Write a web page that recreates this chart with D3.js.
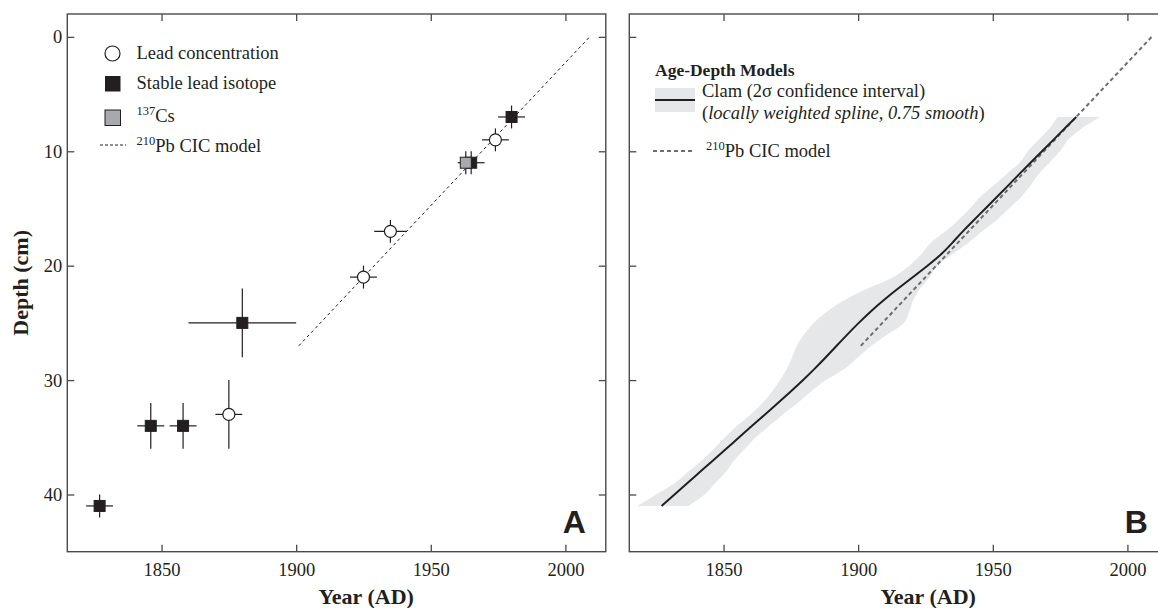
<!DOCTYPE html>
<html>
<head>
<meta charset="utf-8">
<script src="https://cdn.jsdelivr.net/npm/d3@7"></script>
<style>
    body { margin: 0; background: #fff; }
    svg text { font-family: "Liberation Serif", "Times New Roman", serif; fill: #231f20; }
</style>
</head>
<body>
<div class="chart"></div>
<script>
// axes
const yearDomain = [1815, 2015];
const depthDomain = [-2, 45];
const yearTicks = [1850, 1900, 1950, 2000];
const depthTicks = [0, 10, 20, 30, 40];

// panel A - lead concentration
const concYears = [1974, 1935, 1925, 1875];
const concDepths = [9, 17, 21, 33];
const concYearErr = [5, 6, 5, 5];
const concDepthErr = [1, 1, 1, 3];

// panel A - stable lead isotope
const isoYears = [1980, 1965, 1880, 1858, 1846, 1827];
const isoDepths = [7, 11, 25, 34, 34, 41];
const isoYearErr = [5, 5, 20, 5, 5, 5];
const isoDepthErr = [1, 1, 3, 2, 2, 1];

// panel A - 137Cs
const csYears = [1963];
const csDepths = [11];
const csYearErr = [2];
const csDepthErr = [1];

// 210Pb CIC model
const cicYears = [1901, 2009];
const cicDepths = [27, 0];

// panel B - clam model (depth, best year, 2 sigma min / max)
const clamDepths = [7, 8, 9, 10, 11, 12, 13, 14, 15, 16, 17, 18, 19, 20, 21, 22, 23, 24,
    25, 26, 27, 28, 29, 30, 31, 32, 33, 34, 35, 36, 37, 38, 39, 40, 41];
const clamYears = [1981, 1976.7, 1972.5, 1968.3, 1964, 1959.8, 1955.7, 1951.5, 1947.3, 1943,
    1938.8, 1935, 1931, 1925.8, 1920.3, 1914.8, 1909.5, 1904.6, 1900.2, 1896, 1892, 1888, 1883.9,
    1879.6, 1875, 1870.2, 1865.4, 1860.6, 1855.8, 1851, 1846.2, 1841.4, 1836.6, 1831.8, 1827];
const clamMinYears = [1974, 1971, 1967, 1963, 1960, 1955, 1950.3, 1945.3, 1941.5, 1937.2,
    1932.5, 1927, 1923.5, 1919, 1913, 1903.5, 1895, 1888.5, 1883.5, 1880, 1877.2, 1875.5,
    1873.5, 1871, 1868, 1864.5, 1860, 1855, 1850.5, 1846.5, 1842, 1837, 1832, 1825, 1818];
const clamMaxYears = [1990, 1983, 1978, 1975, 1971, 1967, 1964, 1960.5, 1956, 1951.5, 1946,
    1941, 1935, 1929.5, 1926.5, 1923, 1920.5, 1919, 1917, 1911, 1905, 1900, 1895, 1888,
    1882.5, 1877.5, 1872, 1867, 1862, 1858, 1854, 1851, 1847, 1843, 1837];

class AgeDepthFigure {
    constructor() {
        this.container = document.querySelector('.chart');
        this.width = 1158;
        this.height = 608;
        this.top = 14;
        this.bottom = 551.7;
        this.panelWidth = 538.5;
        this.axisColor = '#4a4a4a';
        this.ink = '#231f20';

        this.appendSVG();
        this.drawPanelA(67.3);
        this.drawPanelB(629.3);
    }

    appendSVG() {
        this.svg = d3.select(this.container)
            .append('svg')
            .attr('width', this.width)
            .attr('height', this.height)
            .style('display', 'block');
    }

    scales(left) {
        const x = d3.scaleLinear().domain(yearDomain).range([left, left + this.panelWidth]);
        const y = d3.scaleLinear().domain(depthDomain).range([this.top, this.bottom]);
        return { x, y };
    }

    addFrame(g, x, y, left, showYLabels) {
        const right = left + this.panelWidth;

        g.append('g')
            .attr('transform', `translate(0,${this.bottom})`)
            .call(d3.axisBottom(x).tickValues(yearTicks).tickFormat(d3.format('d'))
                .tickSizeInner(-7).tickSizeOuter(0).tickPadding(11))
            .call((a) => this.styleAxis(a));

        g.append('g')
            .attr('transform', `translate(0,${this.top})`)
            .call(d3.axisTop(x).tickValues(yearTicks).tickSizeInner(-7).tickSizeOuter(0).tickFormat(''))
            .call((a) => this.styleAxis(a));

        g.append('g')
            .attr('transform', `translate(${left},0)`)
            .call(d3.axisLeft(y).tickValues(depthTicks).tickSizeInner(-7).tickSizeOuter(0)
                .tickPadding(5).tickFormat(showYLabels ? d3.format('d') : ''))
            .call((a) => this.styleAxis(a));

        g.append('g')
            .attr('transform', `translate(${right},0)`)
            .call(d3.axisRight(y).tickValues(depthTicks).tickSizeInner(-7).tickSizeOuter(0).tickFormat(''))
            .call((a) => this.styleAxis(a));

        g.append('rect')
            .attr('x', left)
            .attr('y', this.top)
            .attr('width', this.panelWidth)
            .attr('height', this.bottom - this.top)
            .attr('fill', 'none')
            .attr('stroke', this.axisColor)
            .attr('stroke-width', 1.4);

        // x axis title
        g.append('text')
            .attr('x', x(1926))
            .attr('y', 604)
            .attr('text-anchor', 'middle')
            .style('font-size', '22px')
            .style('font-weight', 'bold')
            .text('Year (AD)');
    }

    styleAxis(a) {
        a.select('.domain').remove();
        a.selectAll('.tick line').attr('stroke', this.axisColor).attr('stroke-width', 1.3);
        a.selectAll('.tick text')
            .style('font-family', '"Liberation Serif", "Times New Roman", serif')
            .style('font-size', '18.5px')
            .attr('fill', this.ink);
    }

    addErrorBars(g, x, y, years, depths, yErr, dErr) {
        const bars = g.append('g').attr('stroke', this.ink).attr('stroke-width', 1.2);
        years.forEach((yr, i) => {
            bars.append('line')
                .attr('x1', x(yr - yErr[i])).attr('x2', x(yr + yErr[i]))
                .attr('y1', y(depths[i])).attr('y2', y(depths[i]));
            bars.append('line')
                .attr('x1', x(yr)).attr('x2', x(yr))
                .attr('y1', y(depths[i] - dErr[i])).attr('y2', y(depths[i] + dErr[i]));
        });
    }

    addSquares(g, x, y, years, depths, fill) {
        const s = 11;
        g.append('g')
            .selectAll('rect')
            .data(years)
            .enter()
            .append('rect')
            .attr('x', (d) => x(d) - s / 2)
            .attr('y', (d, i) => y(depths[i]) - s / 2)
            .attr('width', s)
            .attr('height', s)
            .attr('fill', fill)
            .attr('stroke', this.ink)
            .attr('stroke-width', 1);
    }

    addPanelLetter(left, letter) {
        this.svg.append('text')
            .attr('x', left + this.panelWidth - 20)
            .attr('y', 533)
            .attr('text-anchor', 'end')
            .style('font-family', '"Liberation Sans", Arial, sans-serif')
            .style('font-weight', 'bold')
            .style('font-size', '32px')
            .text(letter);
    }

    drawPanelA(left) {
        const { x, y } = this.scales(left);
        const g = this.svg.append('g').attr('class', 'panel-a');

        this.addFrame(g, x, y, left, true);

        // y axis title
        g.append('text')
            .attr('transform', `translate(28,${(this.top + this.bottom) / 2}) rotate(-90)`)
            .attr('text-anchor', 'middle')
            .style('font-size', '22px')
            .style('font-weight', 'bold')
            .text('Depth (cm)');

        // CIC model
        g.append('path')
            .datum(cicYears)
            .attr('d', d3.line().x((d) => x(d)).y((d, i) => y(cicDepths[i])))
            .attr('fill', 'none')
            .attr('stroke', this.ink)
            .attr('stroke-width', 1)
            .attr('stroke-dasharray', '3,3');

        this.addErrorBars(g, x, y, concYears, concDepths, concYearErr, concDepthErr);
        this.addErrorBars(g, x, y, isoYears, isoDepths, isoYearErr, isoDepthErr);
        this.addErrorBars(g, x, y, csYears, csDepths, csYearErr, csDepthErr);

        g.append('g')
            .selectAll('circle')
            .data(concYears)
            .enter()
            .append('circle')
            .attr('cx', (d) => x(d))
            .attr('cy', (d, i) => y(concDepths[i]))
            .attr('r', 6)
            .attr('fill', '#fff')
            .attr('stroke', this.ink)
            .attr('stroke-width', 1.2);

        this.addSquares(g, x, y, isoYears, isoDepths, this.ink);
        this.addSquares(g, x, y, csYears, csDepths, '#a7a9ac');

        // legend
        const lg = g.append('g').attr('class', 'legend-a');
        lg.append('circle').attr('cx', 112.5).attr('cy', 53.5).attr('r', 7.5)
            .attr('fill', '#fff').attr('stroke', this.ink).attr('stroke-width', 1.2);
        lg.append('rect').attr('x', 105).attr('y', 76).attr('width', 15.5).attr('height', 15.5)
            .attr('fill', this.ink);
        lg.append('rect').attr('x', 105).attr('y', 110).attr('width', 15.5).attr('height', 15.5)
            .attr('fill', '#a7a9ac').attr('stroke', this.ink).attr('stroke-width', 1);
        lg.append('line').attr('x1', 100).attr('x2', 126).attr('y1', 145).attr('y2', 145)
            .attr('stroke', this.ink).attr('stroke-width', 1).attr('stroke-dasharray', '3,2');

        const textX = 136.5;
        lg.append('text').attr('x', textX).attr('y', 58.5).style('font-size', '18.5px')
            .text('Lead concentration');
        lg.append('text').attr('x', textX).attr('y', 88.5).style('font-size', '18.5px')
            .text('Stable lead isotope');
        const cs = lg.append('text').attr('x', textX).attr('y', 122).style('font-size', '18.5px');
        cs.append('tspan').attr('dy', -7).style('font-size', '12.5px').text('137');
        cs.append('tspan').attr('dy', 7).text('Cs');
        const pb = lg.append('text').attr('x', textX).attr('y', 152).style('font-size', '18.5px');
        pb.append('tspan').attr('dy', -7).style('font-size', '12.5px').text('210');
        pb.append('tspan').attr('dy', 7).text('Pb CIC model');

        this.addPanelLetter(left, 'A');
    }

    drawPanelB(left) {
        const { x, y } = this.scales(left);
        const g = this.svg.append('g').attr('class', 'panel-b');

        // confidence band
        g.append('path')
            .datum(clamDepths)
            .attr('d', d3.area()
                .y((d) => y(d))
                .x0((d, i) => x(clamMinYears[i]))
                .x1((d, i) => x(clamMaxYears[i]))
                .curve(d3.curveMonotoneY))
            .attr('fill', '#e6e7e8');

        // CIC model
        g.append('path')
            .datum(cicYears)
            .attr('d', d3.line().x((d) => x(d)).y((d, i) => y(cicDepths[i])))
            .attr('fill', 'none')
            .attr('stroke', '#6d6e71')
            .attr('stroke-width', 2)
            .attr('stroke-dasharray', '4,3');

        // clam spline
        g.append('path')
            .datum(clamDepths)
            .attr('d', d3.line()
                .x((d, i) => x(clamYears[i]))
                .y((d) => y(d))
                .curve(d3.curveBasis))
            .attr('fill', 'none')
            .attr('stroke', this.ink)
            .attr('stroke-width', 2);

        this.addFrame(g, x, y, left, false);

        // legend
        const lg = g.append('g').attr('class', 'legend-b');
        lg.append('text').attr('x', 655).attr('y', 76)
            .style('font-size', '17.5px').style('font-weight', 'bold')
            .text('Age-Depth Models');
        lg.append('rect').attr('x', 655).attr('y', 88).attr('width', 40).attr('height', 24)
            .attr('fill', '#e6e7e8');
        lg.append('line').attr('x1', 655).attr('x2', 695).attr('y1', 100).attr('y2', 100)
            .attr('stroke', this.ink).attr('stroke-width', 2);
        lg.append('text').attr('x', 702).attr('y', 97).style('font-size', '18.5px')
            .text('Clam (2σ confidence interval)');
        const sp = lg.append('text').attr('x', 702).attr('y', 119).style('font-size', '18.5px');
        sp.append('tspan').text('(');
        sp.append('tspan').style('font-style', 'italic').text('locally weighted spline, 0.75 smooth');
        sp.append('tspan').text(')');

        lg.append('line').attr('x1', 653).attr('x2', 693).attr('y1', 151).attr('y2', 151)
            .attr('stroke', '#6d6e71').attr('stroke-width', 2).attr('stroke-dasharray', '4,3');
        const pb = lg.append('text').attr('x', 706).attr('y', 157).style('font-size', '18.5px');
        pb.append('tspan').attr('dy', -7).style('font-size', '12.5px').text('210');
        pb.append('tspan').attr('dy', 7).text('Pb CIC model');

        this.addPanelLetter(left, 'B');
    }
}

new AgeDepthFigure();
</script>
</body>
</html>
